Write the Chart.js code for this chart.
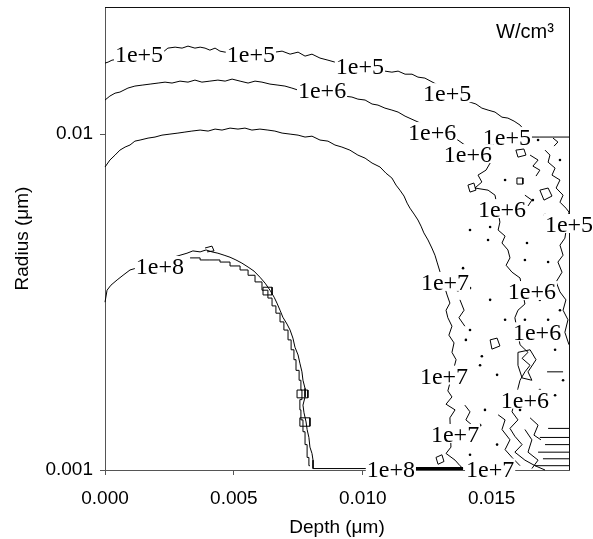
<!DOCTYPE html>
<html>
<head>
<meta charset="utf-8">
<script src="https://cdn.jsdelivr.net/npm/chart.js@4/dist/chart.umd.min.js"></script>
<style>
  html, body { margin: 0; padding: 0; background: #fff; }
  #wrap { width: 593px; height: 539px; }
</style>
</head>
<body>
<div id="wrap"><canvas id="c" width="593" height="539"></canvas></div>
<script>
// ---------- DATA (x = depth in µm, y = radius in µm) ----------
const xTickValues = [0, 0.005, 0.010, 0.015];
const yTickValues = [0.001, 0.01];
const yTickLabels = ['0.001', '0.01'];
const unitLabel = 'W/cm³';

// 1e+5 contour (top)
const contour5 = [
  [0, 0.01627], [0.00012, 0.01638], [0.00027, 0.01660], [0.00225, 0.01754], [0.00244, 0.01803],
  [0.00272, 0.01815], [0.00299, 0.01803], [0.00322, 0.01828], [0.00349, 0.01803], [0.00369, 0.01815],
  [0.00388, 0.01803], [0.00407, 0.01778], [0.00427, 0.01803], [0.00446, 0.01766], [0.00466, 0.01754],
  [0.00659, 0.01754], [0.00687, 0.01766], [0.00718, 0.01730], [0.00749, 0.01754], [0.00776, 0.01707],
  [0.00803, 0.01730], [0.00834, 0.01684], [0.00865, 0.01660], [0.00892, 0.01638], [0.01086, 0.01540],
  [0.01113, 0.01529], [0.01137, 0.01540], [0.01164, 0.01508], [0.01191, 0.01508], [0.01214, 0.01478],
  [0.01241, 0.01468], [0.01416, 0.01245], [0.01439, 0.01229], [0.01462, 0.01195], [0.01486, 0.01179],
  [0.01513, 0.01163], [0.01540, 0.01123], [0.01563, 0.01116], [0.01587, 0.01093], [0.01610, 0.01064],
  [0.01649, 0.00980], [0.01687, 0.00980], [0.01800, 0.00980]
];
// 1e+5 contour (right side)
const contour5Right = [
  [0.01707, 0.00896], [0.01726, 0.00866], [0.01719, 0.00825], [0.01746, 0.00792], [0.01734, 0.00755],
  [0.01765, 0.00730], [0.01750, 0.00691], [0.01777, 0.00658], [0.01765, 0.00627], [0.01788, 0.00602],
  [0.01800, 0.00586], [0.01784, 0.00490], [0.01765, 0.00467], [0.01777, 0.00436], [0.01757, 0.00416],
  [0.01773, 0.00388], [0.01750, 0.00363], [0.01765, 0.00339], [0.01788, 0.00321], [0.01777, 0.00299],
  [0.01796, 0.00280], [0.01784, 0.00257], [0.01800, 0.00236]
];
// 1e+6 contour
const contour6 = [
  [0, 0.01263], [0.00019, 0.01298], [0.00039, 0.01324], [0.00058, 0.01334], [0.00089, 0.01371],
  [0.00116, 0.01390], [0.00144, 0.01399], [0.00175, 0.01409], [0.00206, 0.01419], [0.00233, 0.01428],
  [0.00260, 0.01419], [0.00291, 0.01438], [0.00322, 0.01428], [0.00349, 0.01448], [0.00376, 0.01428],
  [0.00407, 0.01438], [0.00438, 0.01448], [0.00466, 0.01438], [0.00493, 0.01458], [0.00524, 0.01438],
  [0.00555, 0.01419], [0.00582, 0.01438], [0.00609, 0.01428], [0.00640, 0.01409], [0.00671, 0.01399],
  [0.00698, 0.01390], [0.00725, 0.01371], [0.00749, 0.01352], [0.00958, 0.01289], [0.00981, 0.01271],
  [0.01009, 0.01263], [0.01036, 0.01229], [0.01059, 0.01220], [0.01086, 0.01195], [0.01113, 0.01179],
  [0.01137, 0.01163], [0.01164, 0.01131], [0.01369, 0.00960], [0.01494, 0.00820], [0.01478, 0.00781],
  [0.01447, 0.00755], [0.01462, 0.00720], [0.01435, 0.00691], [0.01486, 0.00681], [0.01513, 0.00658],
  [0.01532, 0.00547], [0.01525, 0.00518], [0.01552, 0.00497], [0.01540, 0.00474], [0.01563, 0.00452],
  [0.01571, 0.00428], [0.01556, 0.00407], [0.01579, 0.00388], [0.01610, 0.00373], [0.01629, 0.00312],
  [0.01602, 0.00299], [0.01590, 0.00284], [0.01610, 0.00236], [0.01641, 0.00224], [0.01618, 0.00215],
  [0.01649, 0.00205], [0.01629, 0.00196], [0.01610, 0.00185], [0.01602, 0.00175], [0.01579, 0.00149],
  [0.01602, 0.00141], [0.01571, 0.00133], [0.01590, 0.00126], [0.01618, 0.00119], [0.01590, 0.00113],
  [0.01629, 0.00107], [0.01668, 0.00103], [0.01707, 0.00100]
];
// 1e+7 contour
const contour7 = [
  [0, 0.00798], [0.00019, 0.00837], [0.00039, 0.00866], [0.00058, 0.00896], [0.00078, 0.00915],
  [0.00097, 0.00928], [0.00116, 0.00953], [0.00136, 0.00960], [0.00167, 0.00973], [0.00194, 0.00980],
  [0.00221, 0.00993], [0.00252, 0.01000], [0.00283, 0.01007], [0.00310, 0.01014], [0.00337, 0.01021],
  [0.00369, 0.01028], [0.00400, 0.01021], [0.00427, 0.01035], [0.00454, 0.01028], [0.00485, 0.01042],
  [0.00516, 0.01035], [0.00543, 0.01042], [0.00570, 0.01028], [0.00601, 0.01035], [0.00632, 0.01028],
  [0.00659, 0.01021], [0.00687, 0.01007], [0.00718, 0.01000], [0.00749, 0.00993], [0.00776, 0.00980],
  [0.00803, 0.00986], [0.00834, 0.00960], [0.00865, 0.00953], [0.00892, 0.00928], [0.00919, 0.00915],
  [0.00950, 0.00896], [0.00981, 0.00866], [0.01009, 0.00848], [0.01036, 0.00820], [0.01067, 0.00798],
  [0.01090, 0.00765], [0.01113, 0.00740], [0.01129, 0.00705], [0.01144, 0.00681], [0.01160, 0.00654],
  [0.01172, 0.00623], [0.01183, 0.00602], [0.01199, 0.00578], [0.01214, 0.00555], [0.01226, 0.00532],
  [0.01237, 0.00508], [0.01253, 0.00484], [0.01268, 0.00458], [0.01280, 0.00436], [0.01288, 0.00416],
  [0.01327, 0.00332], [0.01338, 0.00314], [0.01323, 0.00299], [0.01330, 0.00284], [0.01346, 0.00268],
  [0.01334, 0.00252], [0.01354, 0.00239], [0.01346, 0.00224], [0.01362, 0.00213], [0.01330, 0.00172],
  [0.01346, 0.00165], [0.01323, 0.00157], [0.01358, 0.00151], [0.01338, 0.00143], [0.01342, 0.00117],
  [0.01323, 0.00112], [0.01358, 0.00107], [0.01377, 0.00103], [0.01389, 0.00101]
];
// 1e+8 contour (outer)
const contour8 = [
  [0, 0.00316], [0.00008, 0.00343], [0.00023, 0.00355], [0.00047, 0.00368], [0.00070, 0.00380],
  [0.00097, 0.00394], [0.00318, 0.00442], [0.00341, 0.00449], [0.00369, 0.00446], [0.00392, 0.00452],
  [0.00415, 0.00446], [0.00438, 0.00442], [0.00462, 0.00436], [0.00485, 0.00430], [0.00508, 0.00422],
  [0.00531, 0.00413], [0.00555, 0.00402], [0.00578, 0.00391], [0.00601, 0.00375], [0.00621, 0.00360],
  [0.00640, 0.00343], [0.00656, 0.00327], [0.00667, 0.00314], [0.00679, 0.00299], [0.00690, 0.00285],
  [0.00706, 0.00272], [0.00718, 0.00261], [0.00729, 0.00247], [0.00737, 0.00232], [0.00749, 0.00220],
  [0.00756, 0.00208], [0.00764, 0.00196], [0.00768, 0.00185], [0.00776, 0.00175], [0.00776, 0.00165],
  [0.00768, 0.00156], [0.00772, 0.00148], [0.00780, 0.00139], [0.00784, 0.00132], [0.00791, 0.00125],
  [0.00795, 0.00117], [0.00803, 0.00112], [0.00807, 0.00107], [0.00807, 0.00102], [0.00807, 0.00101],
  [0.01016, 0.00101], [0.01203, 0.00101], [0.01389, 0.00101]
];
// 1e+8 contour (inner, stepped)
const contour8Inner = [
  [0.00330, 0.00428], [0.00369, 0.00428], [0.00407, 0.00422], [0.00446, 0.00422], [0.00485, 0.00416],
  [0.00524, 0.00405], [0.00555, 0.00394], [0.00582, 0.00380], [0.00609, 0.00363], [0.00632, 0.00343],
  [0.00648, 0.00325], [0.00663, 0.00308], [0.00679, 0.00293], [0.00694, 0.00276], [0.00710, 0.00261],
  [0.00722, 0.00244], [0.00733, 0.00228], [0.00741, 0.00213], [0.00753, 0.00198], [0.00760, 0.00185],
  [0.00764, 0.00173], [0.00756, 0.00162], [0.00760, 0.00151], [0.00768, 0.00141], [0.00776, 0.00130],
  [0.00784, 0.00119], [0.00791, 0.00109], [0.00795, 0.00103]
];
// thick bottom segment of 1e+8 along the axis
const contour8Base = [[0.01203, 0.00101], [0.01389, 0.00101]];

// small noisy closed/open contour fragments
const noiseSegments = [
  [[0.01594, 0.00896], [0.01625, 0.00903], [0.01633, 0.00866], [0.01602, 0.00854], [0.01594, 0.00896]],
  [[0.01649, 0.00866], [0.01680, 0.00837], [0.01660, 0.00803], [0.01687, 0.00781], [0.01672, 0.00750]],
  [[0.01598, 0.00740], [0.01621, 0.00740], [0.01621, 0.00710], [0.01598, 0.00710], [0.01598, 0.00740]],
  [[0.01738, 0.00973], [0.01757, 0.00947], [0.01742, 0.00921]],
  [[0.01408, 0.00705], [0.01431, 0.00715], [0.01439, 0.00681], [0.01416, 0.00672], [0.01408, 0.00705]],
  [[0.01377, 0.00321], [0.01393, 0.00299], [0.01373, 0.00284], [0.01396, 0.00268]],
  [[0.01602, 0.00224], [0.01649, 0.00228], [0.01672, 0.00213], [0.01641, 0.00196], [0.01656, 0.00185],
   [0.01618, 0.00188], [0.01602, 0.00205], [0.01602, 0.00224]],
  [[0.01715, 0.00196], [0.01777, 0.00196]],
  [[0.01494, 0.00244], [0.01521, 0.00247], [0.01532, 0.00234], [0.01501, 0.00229], [0.01494, 0.00244]],
  [[0.01525, 0.00146], [0.01552, 0.00141], [0.01540, 0.00132], [0.01571, 0.00123], [0.01552, 0.00115],
   [0.01579, 0.00109], [0.01610, 0.00103]],
  [[0.01649, 0.00143], [0.01680, 0.00136], [0.01664, 0.00127], [0.01691, 0.00123]],
  [[0.01719, 0.00133], [0.01800, 0.00133]],
  [[0.01687, 0.00125], [0.01800, 0.00125]],
  [[0.01707, 0.00119], [0.01800, 0.00119]],
  [[0.01680, 0.00113], [0.01800, 0.00113]],
  [[0.01699, 0.00108], [0.01800, 0.00108]],
  [[0.01668, 0.00103], [0.01800, 0.00103]],
  [[0.01284, 0.00109], [0.01307, 0.00111], [0.01315, 0.00106], [0.01292, 0.00104], [0.01284, 0.00109]],
  [[0.01396, 0.00156], [0.01416, 0.00149], [0.01400, 0.00141], [0.01424, 0.00136]],
  [[0.00613, 0.00350], [0.00648, 0.00350], [0.00648, 0.00332], [0.00613, 0.00332], [0.00613, 0.00350]],
  [[0.00745, 0.00173], [0.00787, 0.00173], [0.00787, 0.00164], [0.00745, 0.00164], [0.00745, 0.00173]],
  [[0.00756, 0.00143], [0.00795, 0.00143], [0.00795, 0.00135], [0.00756, 0.00135], [0.00756, 0.00143]],
  [[0.00388, 0.00458], [0.00415, 0.00464], [0.00423, 0.00449], [0.00396, 0.00446]],
  [[0.01687, 0.00681], [0.01719, 0.00691], [0.01734, 0.00654], [0.01703, 0.00636], [0.01687, 0.00681]],
  [[0.01629, 0.00658], [0.01656, 0.00636], [0.01641, 0.00611]],
  [[0.01629, 0.00132], [0.01656, 0.00123], [0.01641, 0.00113], [0.01680, 0.00107], [0.01656, 0.00101]]
];
// isolated specks
const speckles = [
  [0.01494, 0.00529], [0.01416, 0.00518], [0.01552, 0.00730], [0.01637, 0.00474], [0.01389, 0.00399],
  [0.01416, 0.00348], [0.01400, 0.00244], [0.01462, 0.00218], [0.01521, 0.00192], [0.01777, 0.00185],
  [0.01746, 0.00167], [0.01707, 0.00156], [0.01649, 0.00167], [0.01474, 0.00151], [0.01765, 0.00299],
  [0.01719, 0.00280], [0.01687, 0.00321], [0.01435, 0.00123], [0.01455, 0.00136], [0.01660, 0.00636],
  [0.01765, 0.00518], [0.01719, 0.00416], [0.01707, 0.00355], [0.01680, 0.00960], [0.01455, 0.00205],
  [0.01377, 0.00196], [0.01369, 0.00343], [0.01416, 0.00261], [0.01494, 0.00321], [0.01552, 0.00280],
  [0.01629, 0.00280], [0.01746, 0.00228], [0.01687, 0.00173], [0.01610, 0.00151], [0.01521, 0.00119],
  [0.01416, 0.00111], [0.01358, 0.00123], [0.01486, 0.00484], [0.01629, 0.00422], [0.01610, 0.00574],
  [0.01707, 0.00574], [0.01455, 0.00837], [0.01765, 0.00837]
];
// contour labels
const labelTexts = ['1e+5','1e+5','1e+5','1e+5','1e+5','1e+5',
                    '1e+6','1e+6','1e+6','1e+6','1e+6','1e+6','1e+6',
                    '1e+7','1e+7','1e+7','1e+7',
                    '1e+8','1e+8'];
const labelX = [0.00132, 0.00566, 0.00989, 0.01327, 0.01559, 0.01800,
                0.00842, 0.01269, 0.01408, 0.01540, 0.01656, 0.01676, 0.01629,
                0.01319, 0.01315, 0.01358, 0.01494,
                0.00213, 0.01109];
const labelY = [0.01730, 0.01730, 0.01594, 0.01324, 0.00980, 0.00540,
                0.01352, 0.01014, 0.00872, 0.00598, 0.00341, 0.00257, 0.00162,
                0.00363, 0.00191, 0.00128, 0.00101,
                0.00405, 0.00101];

// ---------- BUILD ----------
const toPts = arr => arr.map(p => ({x: p[0], y: p[1]}));
const noisePts = [];
noiseSegments.forEach(seg => { seg.forEach(p => noisePts.push({x: p[0], y: p[1]})); noisePts.push({x: null, y: null}); });

const lineDs = (data, extra) => Object.assign({
  data, showLine: true, pointRadius: 0, borderColor: '#000', borderWidth: 1,
  tension: 0, fill: false, spanGaps: false, clip: 2
}, extra || {});

const framePlugin = {
  id: 'frameAndLabels',
  afterDatasetsDraw(chart) {
    const {ctx, chartArea: a, scales} = chart;
    ctx.save();
    ctx.strokeStyle = '#111';
    ctx.lineWidth = 1;
    ctx.beginPath();
    ctx.moveTo(a.left, a.top + 0.5);
    ctx.lineTo(a.right + 0.5, a.top + 0.5);
    ctx.lineTo(a.right + 0.5, a.bottom);
    ctx.stroke();
    // contour labels
    ctx.font = '24px "Liberation Serif", "Times New Roman", serif';
    ctx.textAlign = 'center';
    ctx.textBaseline = 'alphabetic';
    for (let i = 0; i < labelTexts.length; i++) {
      const px = scales.x.getPixelForValue(labelX[i]);
      const py = scales.y.getPixelForValue(labelY[i]);
      const w = ctx.measureText(labelTexts[i]).width;
      ctx.fillStyle = '#fff';
      ctx.fillRect(px - w / 2 - 1, py - 10, w + 2, 19);
      ctx.fillStyle = '#000';
      ctx.fillText(labelTexts[i], px, py + 8);
    }
    // unit label
    ctx.font = '20px "Liberation Sans", Arial, sans-serif';
    ctx.textAlign = 'center';
    ctx.fillText(unitLabel, a.right - 44, a.top + 31);
    ctx.restore();
  }
};

new Chart(document.getElementById('c'), {
  type: 'scatter',
  data: {
    datasets: [
      lineDs(toPts(contour5)),
      lineDs(toPts(contour5Right)),
      lineDs(toPts(contour6)),
      lineDs(toPts(contour7)),
      lineDs(toPts(contour8)),
      lineDs(toPts(contour8Inner), {stepped: 'after'}),
      lineDs(toPts(contour8Base), {borderWidth: 3}),
      lineDs(noisePts),
      {data: toPts(speckles), showLine: false, pointRadius: 1.3, pointBorderWidth: 0,
       backgroundColor: '#000', borderColor: '#000', clip: 2}
    ]
  },
  options: {
    responsive: false,
    animation: false,
    devicePixelRatio: 1,
    layout: {padding: {top: 7, right: 24, bottom: 0, left: 0}},
    plugins: {legend: {display: false}, tooltip: {enabled: false}},
    scales: {
      x: {
        type: 'linear', min: 0, max: 0.018,
        afterBuildTicks: s => { s.ticks = xTickValues.map(v => ({value: v})); },
        afterFit: s => { s.height = 69; s.paddingLeft = 0; s.paddingRight = 0; },
        grid: {drawOnChartArea: false, drawTicks: true, tickLength: 5, color: '#555'},
        border: {display: true, color: '#555', width: 1},
        ticks: {color: '#000', padding: 12, maxRotation: 0, autoSkip: false,
                font: {family: '"Liberation Sans", Arial, sans-serif', size: 19},
                callback: v => Number(v).toFixed(3)},
        title: {display: true, text: 'Depth (μm)', color: '#000',
                font: {family: '"Liberation Sans", Arial, sans-serif', size: 19},
                padding: {top: 0, bottom: 0}}
      },
      y: {
        type: 'logarithmic', min: 0.001, max: 0.0239,
        afterBuildTicks: s => { s.ticks = yTickValues.map(v => ({value: v})); },
        afterFit: s => { s.width = 105; s.paddingTop = 0; s.paddingBottom = 0; },
        grid: {drawOnChartArea: false, drawTicks: true, tickLength: 5, color: '#555'},
        border: {display: true, color: '#555', width: 1},
        ticks: {color: '#000', padding: 7, autoSkip: false,
                font: {family: '"Liberation Sans", Arial, sans-serif', size: 19},
                callback: (v) => { const i = yTickValues.indexOf(v); return i >= 0 ? yTickLabels[i] : ''; }},
        title: {display: true, text: 'Radius (μm)', color: '#000',
                font: {family: '"Liberation Sans", Arial, sans-serif', size: 19},
                padding: {top: 11, bottom: 0}}
      }
    }
  },
  plugins: [framePlugin]
});
</script>
</body>
</html>
